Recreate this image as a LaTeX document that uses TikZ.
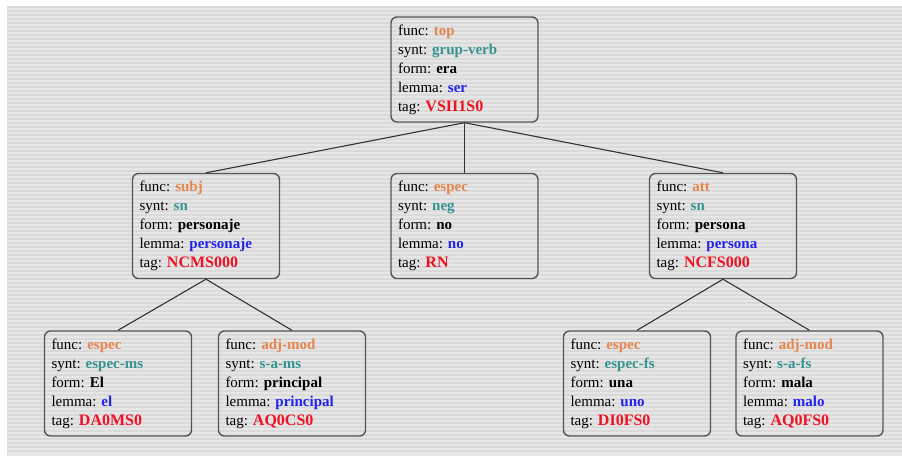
\documentclass[tikz,border=0pt]{standalone}
\usepackage{fontspec}
\setmainfont{Liberation Serif}
\definecolor{cfunc}{HTML}{E5854F}
\definecolor{csynt}{HTML}{35948F}
\definecolor{clemma}{HTML}{2222EE}
\definecolor{ctag}{HTML}{EE1122}
\definecolor{cbg}{HTML}{E6E6E6}
\definecolor{cstripe}{HTML}{DADADA}
\definecolor{cborder}{HTML}{555555}
\newcommand\featbox[5]{func: \textcolor{cfunc}{\textbf{#1}}\\
synt: \textcolor{csynt}{\textbf{#2}}\\
form: \textbf{#3}\\
lemma: \textcolor{clemma}{\textbf{#4}}\\
tag: \textcolor{ctag}{\fontsize{16}{19}\selectfont\textbf{#5}}}
\tikzset{
  fbox/.style={draw=cborder, line width=1.4pt, rounded corners=6pt,
    minimum width=147pt, minimum height=105pt, inner xsep=7pt, inner ysep=0pt,
    text width=133pt, align=left, font=\fontsize{15}{19}\selectfont\frenchspacing},
  edge/.style={draw=black!80, line width=1.1pt}
}
\begin{document}
\begin{tikzpicture}[x=1pt,y=-1pt]
\useasboundingbox (0,0) rectangle (902,459);
\fill[white] (0,0) rectangle (902,459);
\fill[cbg] (7,6) rectangle (902,456);
\foreach \i in {0,...,111} {
  \fill[cstripe] (7,{6+4*\i}) rectangle (902,{7.5+4*\i});
}
\node[fbox] (top) at (464.5,69.5) {\featbox{top}{grup-verb}{era}{ser}{VSII1S0}};
\node[fbox] (subj) at (206,226) {\featbox{subj}{sn}{personaje}{personaje}{NCMS000}};
\node[fbox] (neg) at (464.5,226) {\featbox{espec}{neg}{no}{no}{RN}};
\node[fbox] (att) at (723,226) {\featbox{att}{sn}{persona}{persona}{NCFS000}};
\node[fbox] (ms) at (118,383.5) {\featbox{espec}{espec-ms}{El}{el}{DA0MS0}};
\node[fbox] (am1) at (292,383.5) {\featbox{adj-mod}{s-a-ms}{principal}{principal}{AQ0CS0}};
\node[fbox] (fs) at (637,383.5) {\featbox{espec}{espec-fs}{una}{uno}{DI0FS0}};
\node[fbox] (am2) at (809.5,383.5) {\featbox{adj-mod}{s-a-fs}{mala}{malo}{AQ0FS0}};
\draw[edge] (top.south) -- (subj.north);
\draw[edge] (top.south) -- (neg.north);
\draw[edge] (top.south) -- (att.north);
\draw[edge] (subj.south) -- (ms.north);
\draw[edge] (subj.south) -- (am1.north);
\draw[edge] (att.south) -- (fs.north);
\draw[edge] (att.south) -- (am2.north);
\end{tikzpicture}
\end{document}
